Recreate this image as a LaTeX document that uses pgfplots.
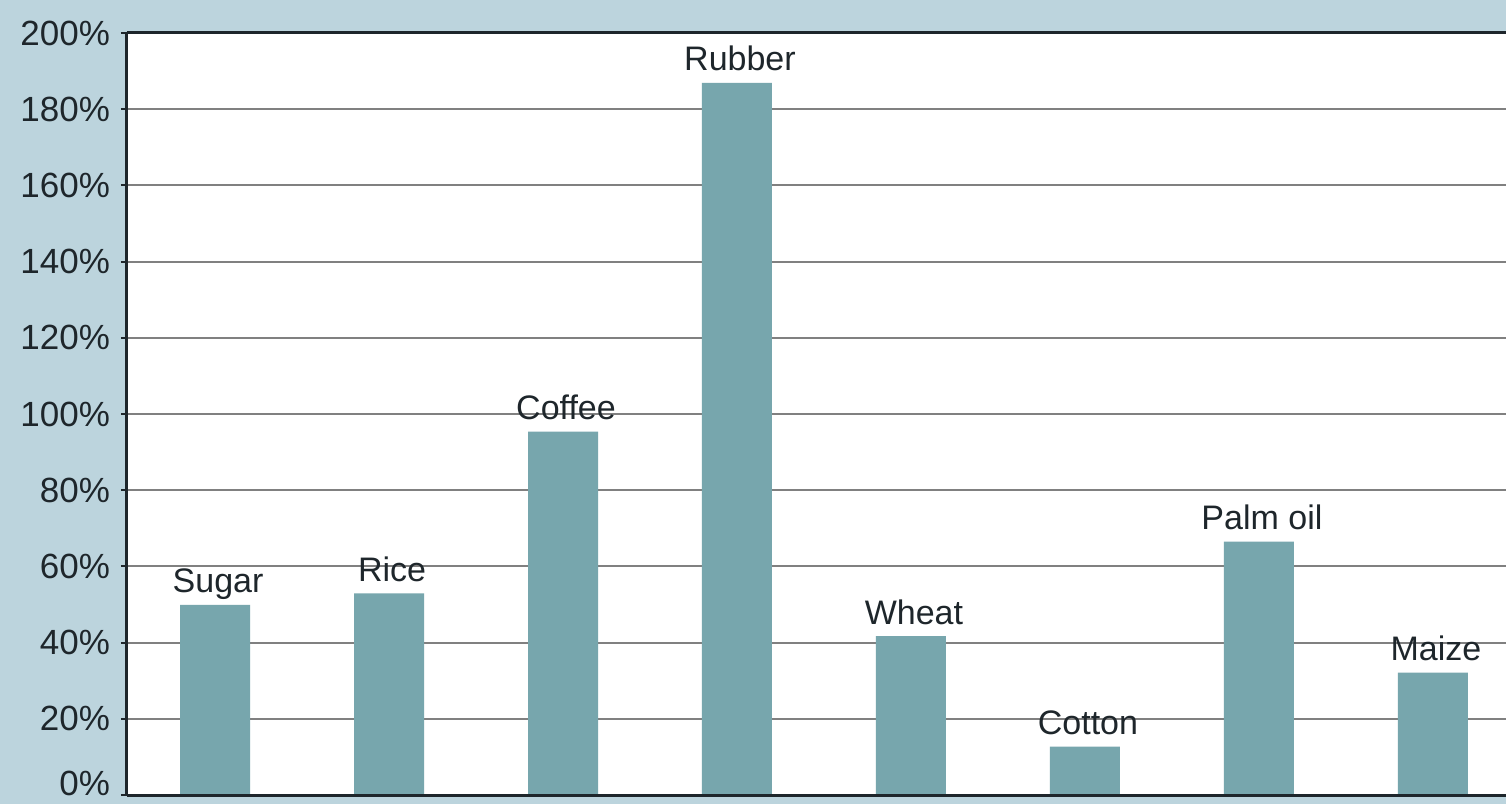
\documentclass[border=0pt]{standalone}
\usepackage{fontspec}
\setmainfont{Liberation Sans}
\usepackage{pgfplots}
\pgfplotsset{compat=1.18}
\definecolor{bgblue}{HTML}{BCD4DD}
\definecolor{barc}{HTML}{77A6AD}
\definecolor{gridc}{HTML}{808080}
\definecolor{axc}{HTML}{1E262B}
\begin{document}
\begin{tikzpicture}
\fill[bgblue] (-63.5pt,-4.5pt) rectangle (689.5pt,397.5pt);
\begin{axis}[
  at={(0pt,0pt)}, anchor=south west,
  scale only axis, width=689.5pt, height=381pt,
  xmin=-0.506, xmax=7.42, ymin=0, ymax=200,
  ytick={0,20,...,200},
  xtick=\empty,
  ytick pos=left,
  clip=false,
  axis background/.style={fill=white},
  axis line style={draw=none},
  ymajorgrids, grid style={gridc, line width=1pt},
  tick align=outside, major tick length=3pt,
  ytick style={axc, line width=1pt},
  yticklabel={\ifdim\tick pt<1pt\raisebox{-0.3pt}[0pt][0pt]{\pgfmathprintnumber{\tick}\%}\else\pgfmathprintnumber{\tick}\%\fi},
  yticklabel style={font=\fontsize{17.5}{20}\selectfont, text=axc, xshift=-2pt},
  /pgf/number format/assume math mode=true,
]
\addplot[ybar, bar width=35pt, bar shift=0pt, fill=barc, draw=none,
  nodes near coords, point meta=explicit symbolic,
  nodes near coords style={font=\fontsize{17}{20}\selectfont, text=axc, anchor=base, yshift=6pt, xshift=1.5pt, inner sep=0pt}]
  table[col sep=comma, row sep=\\, x=x, y=y, meta=label] {
x,y,label\\
0,49.9,Sugar\\
1,52.9,Rice\\
2,95.4,Coffee\\
3,186.9,Rubber\\
4,41.7,Wheat\\
5,12.7,Cotton\\
6,66.5,Palm oil\\
7,32.1,Maize\\
};
\draw[axc, line width=1.5pt] (rel axis cs:0,0) -- (rel axis cs:1,0);
\draw[axc, line width=1.5pt] (rel axis cs:0,0) -- (rel axis cs:0,1);
\draw[axc, line width=1.5pt] (rel axis cs:0,1) -- (rel axis cs:1,1);
\end{axis}
\pgfresetboundingbox
\path (-63.5pt,-4.5pt) rectangle (689.5pt,397.5pt);
\end{tikzpicture}
\end{document}
